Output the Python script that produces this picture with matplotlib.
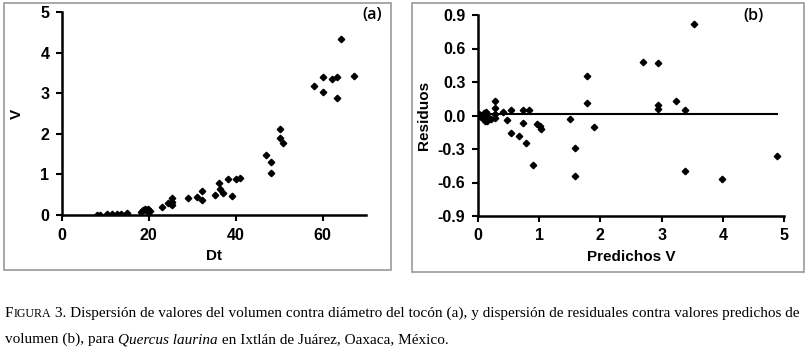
import matplotlib
matplotlib.use("Agg")
import matplotlib.pyplot as plt
from matplotlib.patches import Rectangle

plt.rcParams['axes.unicode_minus'] = False
plt.rcParams['font.family'] = ['Liberation Sans', 'DejaVu Sans']

# panel (a): V vs Dt
dt = [8.0, 8.7, 10.3, 11.4, 12.6, 13.7, 15.0, 18.3, 18.7, 19.1, 19.5, 19.9, 20.3,
      23.1, 24.4, 25.0, 25.4, 25.4, 25.4, 29.0, 31.2, 32.3, 32.3, 35.2, 36.1, 36.4,
      37.1, 38.2, 39.2, 40.0, 41.0, 46.9, 48.2, 48.2, 50.3, 50.3, 51.0, 58.0, 60.2,
      60.2, 62.1, 63.3, 63.3, 64.3, 67.2]
vol = [0.01, 0.01, 0.02, 0.02, 0.02, 0.02, 0.04, 0.08, 0.12, 0.16, 0.10, 0.14, 0.11,
       0.19, 0.29, 0.27, 0.41, 0.33, 0.25, 0.41, 0.44, 0.58, 0.36, 0.49, 0.78, 0.64,
       0.53, 0.88, 0.47, 0.88, 0.92, 1.48, 1.31, 1.04, 2.13, 1.89, 1.77, 3.18, 3.41,
       3.02, 3.35, 3.41, 2.87, 4.33, 3.43]

# panel (b): residuals vs predicted
pred = [0.02, 0.03, 0.05, 0.06, 0.08, 0.09, 0.10, 0.11, 0.12, 0.13, 0.15, 0.15, 0.22,
        0.27, 0.27, 0.28, 0.27, 0.41, 0.48, 0.54, 0.54, 0.67, 0.73, 0.74, 0.78, 0.84,
        0.90, 0.97, 1.02, 1.03, 1.51, 1.58, 1.58, 1.78, 1.78, 1.90, 2.69, 2.94, 2.94,
        2.94, 3.23, 3.38, 3.38, 3.53, 3.99, 4.89]
resid = [0.01, 0.0, -0.01, 0.0, -0.02, -0.035, 0.02, -0.05, -0.04, 0.03, 0.0, -0.05,
         -0.03, 0.13, 0.07, 0.015, -0.02, 0.03, -0.04, 0.05, -0.16, -0.18, 0.05, -0.07,
         -0.25, 0.045, -0.44, -0.08, -0.09, -0.125, -0.03, -0.29, -0.54, 0.35, 0.11,
         -0.10, 0.48, 0.47, 0.09, 0.06, 0.13, 0.045, -0.50, 0.82, -0.57, -0.36]
zero_line = [0.01, 0.01]
zero_x = [0.0, 4.88]

W, H = 809, 350
fig = plt.figure(figsize=(W / 100, H / 100), dpi=100)

# gray frames around each panel
fig.patches.append(Rectangle((4 / W, 1 - 270 / H), 387 / W, 267 / H, transform=fig.transFigure,
                             fill=False, edgecolor='#9a9a9a', linewidth=1.2))
fig.patches.append(Rectangle((412 / W, 1 - 272 / H), 392 / W, 269 / H, transform=fig.transFigure,
                             fill=False, edgecolor='#9a9a9a', linewidth=1.2))


def style(ax):
    for s in ['top', 'right']:
        ax.spines[s].set_visible(False)
    for s in ['left', 'bottom']:
        ax.spines[s].set_linewidth(1.8)
    ax.tick_params(direction='out', length=4, width=1.5, labelsize=11.5, pad=5)
    for lab in ax.get_xticklabels() + ax.get_yticklabels():
        lab.set_fontweight('bold')


ax1 = fig.add_axes([62 / W, 1 - 215 / H, 304 / W, 203 / H])
ax1.plot(dt, vol, 'D', color='black', markersize=3.3)
ax1.set_xlim(0, 70)
ax1.set_ylim(0, 5)
ax1.set_xticks([0, 20, 40, 60])
ax1.set_yticks([0, 1, 2, 3, 4, 5])
style(ax1)
ax1.set_xlabel('Dt', fontsize=11, fontweight='bold', labelpad=5)
ax1.set_ylabel('V', fontsize=11, fontweight='bold', labelpad=12)
ax1.text(1.02, 0.985, '(a)', transform=ax1.transAxes, fontsize=11.5, ha='center', va='center',
         family=['Open Sans', 'DejaVu Sans'], fontweight='semibold')

ax2 = fig.add_axes([478 / W, 1 - 216 / H, 306 / W, 201 / H])
ax2.plot(zero_x, zero_line, color='black', linewidth=1.5)
ax2.plot(pred, resid, 'D', color='black', markersize=3.3)
ax2.set_xlim(0, 5)
ax2.set_ylim(-0.9, 0.9)
ax2.set_xticks([0, 1, 2, 3, 4, 5])
ax2.set_yticks([-0.9, -0.6, -0.3, 0.0, 0.3, 0.6, 0.9])
ax2.set_yticklabels(['%.1f' % t for t in [-0.9, -0.6, -0.3, 0.0, 0.3, 0.6, 0.9]])
style(ax2)
ax2.set_xlabel('Predichos V', fontsize=11, fontweight='bold', labelpad=5)
ax2.set_ylabel('Residuos', fontsize=11, fontweight='bold', labelpad=5)
ax2.text(0.9, 0.995, '(b)', transform=ax2.transAxes, fontsize=11.5, ha='center', va='center',
         family=['Open Sans', 'DejaVu Sans'], fontweight='semibold')

# caption with small caps and italics, placed run by run
renderer = fig.canvas.get_renderer()


def runs(x, y, parts):
    for txt, size, st in parts:
        t = fig.text(x / W, 1 - y / H, txt, fontsize=size, fontstyle=st,
                     family=['Liberation Serif', 'DejaVu Serif'], va='baseline', ha='left')
        bb = t.get_window_extent(renderer)
        x = bb.x1


cap = 11.0
runs(5, 317, [('F', cap, 'normal'), ('IGURA', cap * 0.78, 'normal'),
              (' 3. Dispersión de valores del volumen contra diámetro del tocón (a), y dispersión '
               'de residuales contra valores predichos de', cap, 'normal')])
runs(5, 343, [('volumen (b), para ', cap, 'normal'), ('Quercus laurina', cap, 'italic'),
              (' en Ixtlán de Juárez, Oaxaca, México.', cap, 'normal')])

fig.savefig('out.png', dpi=100)
